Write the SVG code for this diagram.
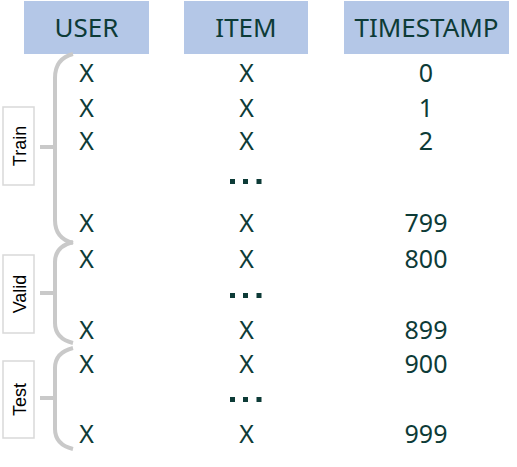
<svg xmlns="http://www.w3.org/2000/svg" width="517" height="467" viewBox="0 0 517 467">
<style>
.hdr{fill:#b4c7e7;}
.ht{font-family:"Noto Sans","Open Sans",sans-serif;font-size:26px;fill:#0d3b37;text-anchor:middle;}
.cell{font-family:"Noto Sans","Open Sans",sans-serif;font-size:25px;fill:#0d3b37;text-anchor:middle;}
.dot{fill:#0d3b37;}
.br{fill:none;stroke:#c9c9c9;stroke-width:4;}
.lbox{fill:#ffffff;stroke:#d9d9d9;stroke-width:1.5;}
.lt{font-family:"Liberation Sans",Arial,sans-serif;font-size:18px;fill:#000000;text-anchor:middle;}
</style>
<rect width="517" height="467" fill="#ffffff"/>
<g id="header-user"><rect class="hdr" x="24" y="1" width="125" height="53"/><text class="ht" x="86.5" y="37">USER</text></g>
<g id="header-item"><rect class="hdr" x="184" y="1" width="124" height="53"/><text class="ht" x="246" y="37">ITEM</text></g>
<g id="header-timestamp"><rect class="hdr" x="344" y="1" width="165" height="53"/><text class="ht" x="426.5" y="37">TIMESTAMP</text></g>
<g id="rows">
<g id="row-0"><text class="cell" x="86.5" y="82">X</text><text class="cell" x="246.5" y="82">X</text><text class="cell" x="426" y="82">0</text></g>
<g id="row-1"><text class="cell" x="86.5" y="117">X</text><text class="cell" x="246.5" y="117">X</text><text class="cell" x="426" y="117">1</text></g>
<g id="row-2"><text class="cell" x="86.5" y="150">X</text><text class="cell" x="246.5" y="150">X</text><text class="cell" x="426" y="150">2</text></g>
<g id="dots-1"><rect class="dot" x="230" y="179" width="5" height="5"/><rect class="dot" x="243" y="179" width="5" height="5"/><rect class="dot" x="256.5" y="179" width="5" height="5"/></g>
<g id="row-799"><text class="cell" x="86.5" y="232">X</text><text class="cell" x="246.5" y="232">X</text><text class="cell" x="426" y="232">799</text></g>
<g id="row-800"><text class="cell" x="86.5" y="268">X</text><text class="cell" x="246.5" y="268">X</text><text class="cell" x="426" y="268">800</text></g>
<g id="dots-2"><rect class="dot" x="230" y="293" width="5" height="5"/><rect class="dot" x="243" y="293" width="5" height="5"/><rect class="dot" x="256.5" y="293" width="5" height="5"/></g>
<g id="row-899"><text class="cell" x="86.5" y="339">X</text><text class="cell" x="246.5" y="339">X</text><text class="cell" x="426" y="339">899</text></g>
<g id="row-900"><text class="cell" x="86.5" y="373">X</text><text class="cell" x="246.5" y="373">X</text><text class="cell" x="426" y="373">900</text></g>
<g id="dots-3"><rect class="dot" x="230" y="397" width="5" height="5"/><rect class="dot" x="243" y="397" width="5" height="5"/><rect class="dot" x="256.5" y="397" width="5" height="5"/></g>
<g id="row-999"><text class="cell" x="86.5" y="443">X</text><text class="cell" x="246.5" y="443">X</text><text class="cell" x="426" y="443">999</text></g>
</g>
<g id="label-train"><rect class="lbox" x="3" y="107" width="31" height="78"/><text class="lt" transform="translate(25.5,146) rotate(-90)">Train</text></g>
<g id="label-valid"><rect class="lbox" x="3" y="255" width="31" height="78"/><text class="lt" transform="translate(25.5,294) rotate(-90)">Valid</text></g>
<g id="label-test"><rect class="lbox" x="3" y="361" width="31" height="77"/><text class="lt" transform="translate(25.5,399.5) rotate(-90)">Test</text></g>
<g id="connectors">
<path class="br" d="M73,54 C61,57 55,65 55,78 L55,220 C55,233 61,240 73,243"/>
<path class="br" d="M40,147 H55"/>
<path class="br" d="M73,242 C61,245 55,251 55,262 L55,323 C55,334 61,340 73,343"/>
<path class="br" d="M40,293 H55"/>
<path class="br" d="M73,348 C61,351 55,357 55,368 L55,429 C55,440 61,446 73,449"/>
<path class="br" d="M40,398 H55"/>
</g>
</svg>
